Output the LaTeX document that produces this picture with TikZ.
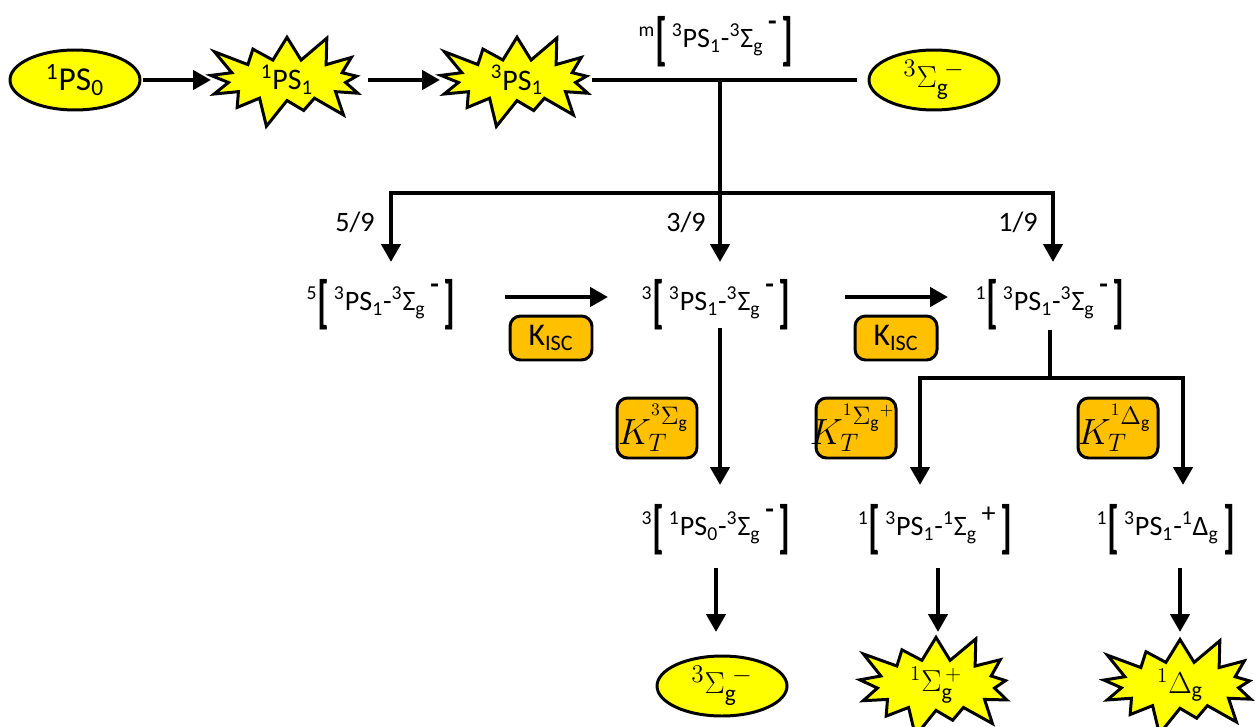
\documentclass[tikz,border=0pt]{standalone}
\usepackage{graphicx}
\usepackage{fontspec}
\setmainfont{Carlito}
\usetikzlibrary{shapes.geometric,shapes.symbols,arrows.meta}
\definecolor{yel}{HTML}{FFFF00}
\definecolor{org}{HTML}{FFC000}
\newcommand\LB{\raisebox{-0.4em}{\scalebox{1.3}[2.05]{\bfseries[}}}
\newcommand\RB{\raisebox{-0.4em}{\scalebox{1.3}[2.05]{\bfseries]}}}
\newcommand\up[1]{\textsuperscript{#1}}
\newcommand\dn[1]{\textsubscript{#1}}
\newcommand\mn{\raisebox{1.25ex}{\,\bfseries-}}
\begin{document}
\begin{tikzpicture}[x=0.02cm,y=-0.02cm,
  ln/.style={line width=2.8pt},
  arr/.style={line width=2.8pt,-{Triangle[length=0.36cm,width=0.38cm]}},
  ell/.style={ellipse,draw,line width=1.7pt,fill=yel,minimum width=2.6cm,minimum height=1.2cm,inner sep=0pt},
  burst/.style={starburst,draw,line width=1.7pt,fill=yel,minimum width=3.6cm,minimum height=1.3cm,starburst points=13,starburst point height=0.62cm,inner sep=0pt},
  lab/.style={font=\fontsize{16}{19}\selectfont,inner sep=0pt},
  kbox/.style={draw,rounded corners=6pt,fill=org,line width=1.7pt,minimum width=1.6cm,minimum height=1.2cm,inner sep=0pt,font=\fontsize{20}{24}\selectfont},
  isc/.style={draw,rounded corners=6pt,fill=org,line width=1.7pt,minimum width=1.64cm,minimum height=0.88cm,inner sep=0pt,font=\fontsize{18}{21}\selectfont}
]
\useasboundingbox (0,0) rectangle (1256,726);
% top row
\node[ell,font=\fontsize{19}{22}\selectfont] (ps0) at (75,80) {\up{1}PS\dn{0}};
\node[burst,font=\fontsize{17}{20}\selectfont] (ps1s) at (287,80) {\up{1}PS\dn{1}};
\node[burst,font=\fontsize{17}{20}\selectfont] (ps1t) at (517,80) {\up{3}PS\dn{1}};
\node[ell,font=\fontsize{19}{22}\selectfont] (o2a) at (934,80) {$^{3}\Sigma_{\mathrm g}^{\;-}$};
\node[lab] (mlab) at (716,42) {\up{m}\LB\,\up{3}PS\dn{1}-\up{3}Σ\dn{g}\mn\,\RB};
\coordinate (t1s) at (143,80);
\coordinate (t1e) at (211,80);
\coordinate (t2s) at (368,80);
\coordinate (t2e) at (440,80);
\draw[arr] (t1s) -- (t1e);
\draw[arr] (t2s) -- (t2e);
\coordinate (t3s) at (592,80);
\coordinate (t3e) at (857,80);
\draw[ln] (t3s) -- (t3e);
% branching
\coordinate (j1) at (720,80);
\coordinate (j2) at (720,193);
\coordinate (a5) at (391,262);
\coordinate (a3) at (720,262);
\coordinate (a1) at (1053,262);
\draw[ln] (j1) -- (j2);
\draw[arr] (j2) -| (a5);
\draw[arr] (j2) -- (a3);
\draw[arr] (j2) -| (a1);
\node[lab] (f5) at (355,222) {5/9};
\node[lab] (f3) at (686,222) {3/9};
\node[lab] (f1) at (1018,222) {1/9};
% row 2
\node[lab] (q5) at (381,305) {\up{5}\LB\,\up{3}PS\dn{1}-\up{3}Σ\dn{g}\mn\,\RB};
\node[lab] (q3) at (716,305) {\up{3}\LB\,\up{3}PS\dn{1}-\up{3}Σ\dn{g}\mn\,\RB};
\node[lab] (q1) at (1050,305) {\up{1}\LB\,\up{3}PS\dn{1}-\up{3}Σ\dn{g}\mn\,\RB};
\coordinate (k1s) at (505,297);
\coordinate (k1e) at (608,297);
\coordinate (k2s) at (845,297);
\coordinate (k2e) at (948,297);
\draw[arr] (k1s) -- (k1e);
\draw[arr] (k2s) -- (k2e);
\node[isc] (isc1) at (551,338) {K\dn{ISC}};
\node[isc] (isc2) at (896,338) {K\dn{ISC}};
% middle branch
\coordinate (m1) at (720,328);
\coordinate (m2) at (720,485);
\draw[arr] (m1) -- (m2);
% right branch
\coordinate (r1) at (1050,330);
\coordinate (r2) at (1050,378);
\coordinate (r3) at (920,485);
\coordinate (r4) at (1183,485);
\draw[ln] (r1) -- (r2);
\draw[arr] (r2) -| (r3);
\draw[arr] (r2) -| (r4);
\node[kbox] (kt3) at (657,428) {\hspace*{-4pt}$K_T^{{}^{3}\Sigma_{\mathrm g}}$};
\node[kbox] (kt1s) at (856,428) {\hspace*{-4pt}$K_T^{{}^{1}\Sigma_{\mathrm g}{}^{+}}$};
\node[kbox] (kt1d) at (1118,428) {\hspace*{-4pt}$K_T^{{}^{1}\Delta_{\mathrm g}}$};
% row 3
\node[lab] (p3) at (716,530) {\up{3}\LB\,\up{1}PS\dn{0}-\up{3}Σ\dn{g}\mn\,\RB};
\node[lab] (p1s) at (935,530) {\up{1}\LB\,\up{3}PS\dn{1}-\up{1}Σ\dn{g}\raisebox{1ex}{\,+}\,\RB};
\node[lab] (p1d) at (1166,530) {\up{1}\LB\,\up{3}PS\dn{1}-\up{1}Δ\dn{g}\,\RB};
\coordinate (b1s) at (716,568);
\coordinate (b1e) at (716,632);
\coordinate (b2s) at (938,568);
\coordinate (b2e) at (938,632);
\coordinate (b3s) at (1180,568);
\coordinate (b3e) at (1180,632);
\draw[arr] (b1s) -- (b1e);
\draw[arr] (b2s) -- (b2e);
\draw[arr] (b3s) -- (b3e);
% bottom
\node[ell,font=\fontsize{19}{22}\selectfont] (o2b) at (722,686) {$^{3}\Sigma_{\mathrm g}^{\;-}$};
\node[burst,font=\fontsize{18}{21}\selectfont] (o2c) at (936,685) {$^{1}\Sigma_{\mathrm g}^{\,+}$};
\node[burst,font=\fontsize{18}{21}\selectfont] (o2d) at (1180,685) {$^{1}\Delta_{\mathrm g}$};
\end{tikzpicture}
\end{document}
